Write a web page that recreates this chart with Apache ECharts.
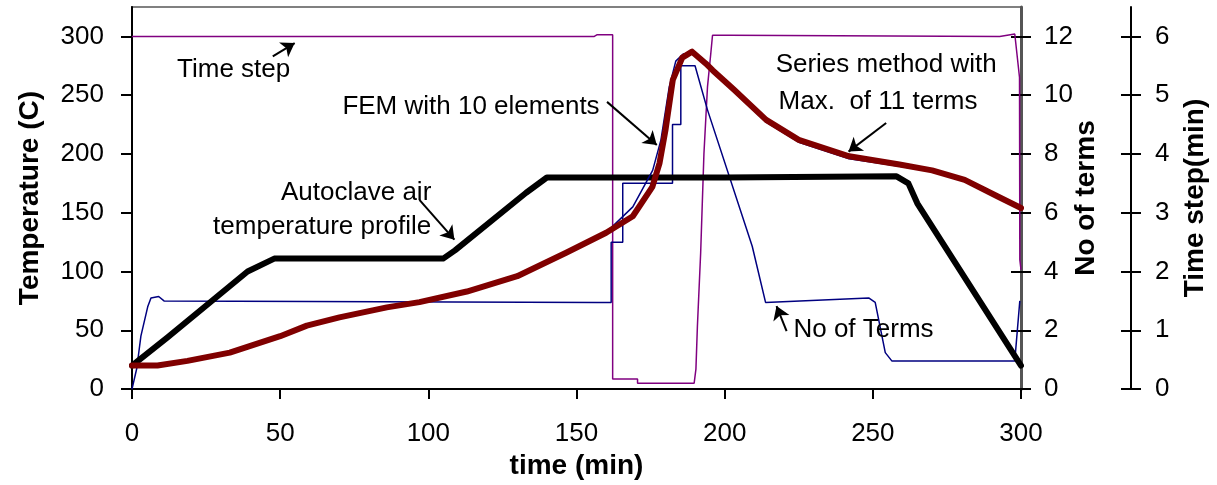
<!DOCTYPE html>
<html>
<head>
<meta charset="utf-8">
<script src="https://cdn.jsdelivr.net/npm/echarts@6/dist/echarts.min.js"></script>
<style>
  html, body { margin: 0; padding: 0; background: #fff; }
  #chart { width: 1217px; height: 485px; }
</style>
</head>
<body>
<div id="chart"></div>
<script>
// tick labels
const timeTicks = [0, 50, 100, 150, 200, 250, 300]
const tempTicks = [0, 50, 100, 150, 200, 250, 300]
const termTicks = [0, 2, 4, 6, 8, 10, 12]
const stepTicks = [0, 1, 2, 3, 4, 5, 6]

// autoclave air temperature (C)
const airTime = [0, 12, 39, 48, 105, 109, 133, 140, 200, 258, 262, 265, 300]
const airTemp = [20, 44, 100, 111, 111, 118, 167, 180, 180, 181, 175, 158, 20]

// FEM with 10 elements (C)
const femTime = [0, 8.6, 18.7, 33, 50, 59, 70, 86, 97, 113, 130, 146.5, 160, 169, 175.6, 178, 180, 182.5, 185.7, 189, 193.6, 196, 203, 214, 225, 242, 259, 270, 281, 292, 300]
const femTemp = [20, 20, 24, 31, 45, 54, 61, 69.5, 74, 83, 96, 116, 133, 147, 172, 192, 220, 263, 282, 287, 277, 271, 255, 229, 212, 198, 191, 186, 178, 164, 154]

// series method, max 11 terms (C)
const serTime = [0, 9, 19, 33, 50, 59, 70, 86, 97, 113, 130, 146.5, 160, 162, 169, 175.7, 178.5, 181.3, 183.5, 186, 189, 193, 196, 203, 214, 225, 242, 259, 270, 281, 292, 300]
const serTemp = [20, 20, 23, 30, 44, 53, 60, 69, 73.5, 82.5, 95.5, 115, 132, 138, 155, 186, 212, 257, 279, 285, 286, 279, 270, 254, 227, 210, 196, 189.5, 185, 177, 163, 153]

// number of terms
const termTime = [0, 1.6, 3, 5.3, 6.4, 9, 10.8, 157, 161.7, 161.7, 165.6, 165.6, 182.4, 182.4, 185.2, 185.2, 190, 194.2, 209.3, 213.8, 248.6, 250.8, 254.2, 256.4, 297.9, 299.6]
const termCount = [0, 0.7, 1.8, 2.8, 3.1, 3.15, 3.0, 2.95, 2.95, 5, 5, 7, 7, 9, 9, 11, 11, 9.5, 4.86, 2.95, 3.1, 2.95, 1.24, 0.96, 0.96, 3.0]

// time step (min)
const stepTime = [0, 156, 157, 162.2, 162.2, 170.6, 170.6, 189.7, 190.3, 190.8, 191.9, 193, 194.2, 195.3, 195.9, 201.5, 292.8, 297.9, 299.5, 299.6, 300]
const stepSize = [6, 6, 6.03, 6.03, 0.17, 0.17, 0.1, 0.1, 0.34, 1.07, 2.32, 4.0, 5.14, 5.7, 6.02, 6.02, 6.0, 6.04, 5.3, 2.2, 2.03]

// text notes, anchored in (time, temperature)
const notes = [
  { text: 'Time step', at: [15.2, 271.2], align: 'left' },
  { text: 'FEM with 10 elements', at: [71.0, 240.1], align: 'left' },
  { text: 'Autoclave air', at: [101, 167], align: 'right' },
  { text: 'temperature profile', at: [101, 138.4], align: 'right' },
  { text: 'Series method with', at: [217.2, 275.4], align: 'left' },
  { text: 'Max.  of 11 terms', at: [218.2, 244.3], align: 'left' },
  { text: 'No of Terms', at: [223.2, 50.8], align: 'left' }
]
const arrows = [
  [[47.5, 283], [54.9, 294.3]],
  [[160.3, 244.3], [177.1, 207.6]],
  [[97, 161], [108.8, 127.1]],
  [[254.5, 226.3], [241.8, 202]],
  [[220.9, 49.4], [217.5, 70.6]]
]

const pairs = (xs, ys) => xs.map((x, i) => [x, ys[i]])
const font = 'Liberation Sans, Arial, sans-serif'
const labelStyle = { color: '#000', fontSize: 26, fontFamily: font }
const nameStyle = { color: '#000', fontSize: 28, fontWeight: 'bold', fontFamily: font }
const blackLine = { color: '#000', width: 2 }

const chart = echarts.init(document.getElementById('chart'))

const option = {
  animation: false,
  grid: { left: 132, right: 194, top: 7, bottom: 95, show: true, borderColor: '#808080', borderWidth: 2 },
  xAxis: {
    type: 'value', min: 0, max: 300, interval: 50,
    name: 'time (min)', nameLocation: 'middle', nameGap: 57, nameTextStyle: nameStyle,
    axisLine: { show: true, onZero: false, lineStyle: blackLine },
    axisTick: { show: true, length: 10, lineStyle: blackLine, customValues: timeTicks },
    axisLabel: { margin: 32, ...labelStyle, customValues: timeTicks },
    splitLine: { show: false }
  },
  yAxis: [
    {
      type: 'value', min: 0, max: 325, position: 'left',
      name: 'Temperature (C)', nameLocation: 'middle', nameGap: 88, nameTextStyle: nameStyle, nameMoveOverlap: false,
      axisLine: { show: true, lineStyle: blackLine },
      axisTick: { show: true, length: 11, lineStyle: blackLine, customValues: tempTicks },
      axisLabel: { margin: 28, ...labelStyle, customValues: tempTicks },
      splitLine: { show: false }
    },
    {
      type: 'value', min: 0, max: 13, position: 'right',
      name: 'No of terms', nameLocation: 'middle', nameGap: 51, nameRotate: 90, nameTextStyle: nameStyle, nameMoveOverlap: false,
      axisLine: { show: true, lineStyle: { color: '#555', width: 3 } },
      axisTick: { show: true, length: 10, lineStyle: blackLine, customValues: termTicks },
      axisLabel: { margin: 23, ...labelStyle, customValues: termTicks },
      splitLine: { show: false }
    },
    {
      type: 'value', min: 0, max: 6.5, position: 'right', offset: 110,
      name: 'Time step(min)', nameLocation: 'middle', nameGap: 50, nameRotate: 90, nameTextStyle: nameStyle, nameMoveOverlap: false,
      axisLine: { show: true, lineStyle: blackLine },
      axisTick: { show: true, length: 10, lineStyle: blackLine, customValues: stepTicks },
      axisLabel: { margin: 24, ...labelStyle, customValues: stepTicks },
      splitLine: { show: false }
    },
    // inner halves of the crossing ticks on the right
    {
      type: 'value', min: 0, max: 13, position: 'right',
      axisLine: { show: false },
      axisTick: { show: true, inside: true, length: 10, lineStyle: blackLine, customValues: termTicks },
      axisLabel: { show: false },
      splitLine: { show: false }
    },
    {
      type: 'value', min: 0, max: 6.5, position: 'right', offset: 110,
      axisLine: { show: false },
      axisTick: { show: true, inside: true, length: 10, lineStyle: blackLine, customValues: stepTicks },
      axisLabel: { show: false },
      splitLine: { show: false }
    }
  ],
  series: [
    {
      name: 'Time step', type: 'line', yAxisIndex: 2, showSymbol: false, symbol: 'none',
      lineStyle: { color: '#800080', width: 1.5 },
      data: pairs(stepTime, stepSize)
    },
    {
      name: 'No of Terms', type: 'line', yAxisIndex: 1, showSymbol: false, symbol: 'none',
      lineStyle: { color: '#000080', width: 1.5 },
      data: pairs(termTime, termCount)
    },
    {
      name: 'Autoclave air', type: 'line', yAxisIndex: 0, showSymbol: false, symbol: 'none',
      lineStyle: { color: '#000', width: 6, cap: 'round', join: 'round' },
      data: pairs(airTime, airTemp)
    },
    {
      name: 'Series method', type: 'line', yAxisIndex: 0, showSymbol: false, symbol: 'none',
      lineStyle: { color: '#000080', width: 1.5 },
      data: pairs(serTime, serTemp)
    },
    {
      name: 'FEM', type: 'line', yAxisIndex: 0, showSymbol: false, symbol: 'none',
      lineStyle: { color: '#800000', width: 6, cap: 'round', join: 'round' },
      data: pairs(femTime, femTemp),
      markLine: {
        silent: true,
        symbol: ['none', 'arrow'],
        symbolSize: 13,
        label: { show: false },
        lineStyle: { color: '#000', width: 2, type: 'solid' },
        itemStyle: { color: '#000' },
        data: arrows.map(a => [{ coord: a[0] }, { coord: a[1] }])
      }
    }
  ]
}

chart.setOption(option)

chart.setOption({
  graphic: notes.map(n => {
    const p = chart.convertToPixel({ xAxisIndex: 0, yAxisIndex: 0 }, n.at)
    return {
      type: 'text', x: p[0], y: p[1], z: 100,
      style: { text: n.text, fill: '#000', font: '26px ' + font, textAlign: n.align, textVerticalAlign: 'middle' }
    }
  })
})
</script>
</body>
</html>
